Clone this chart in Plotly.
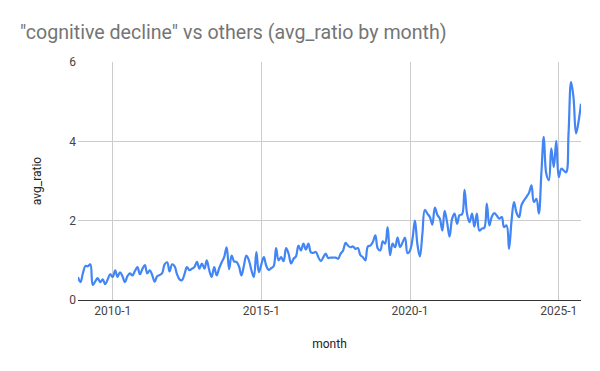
import pandas as pd
import plotly.graph_objects as go

# Monthly x categories: 2008-11 .. 2025-10
months = pd.date_range("2008-11-01", "2025-10-01", freq="MS")

avg_ratio = [
    # 2008-11, 2008-12
    0.58, 0.45,
    # 2009
    0.68, 0.86, 0.85, 0.90, 0.38, 0.47, 0.55, 0.45, 0.52, 0.40, 0.52, 0.65,
    # 2010
    0.58, 0.75, 0.58, 0.70, 0.60, 0.45, 0.60, 0.67, 0.62, 0.73, 0.83, 0.65,
    # 2011
    0.78, 0.88, 0.67, 0.75, 0.63, 0.46, 0.60, 0.63, 0.68, 0.90, 0.95, 0.72,
    # 2012
    0.90, 0.85, 0.65, 0.52, 0.50, 0.65, 0.83, 0.75, 0.79, 0.83, 0.96, 0.79,
    # 2013
    0.92, 0.79, 1.00, 0.75, 0.58, 0.83, 0.62, 0.80, 0.95, 1.08, 1.33, 0.78,
    # 2014
    1.12, 0.97, 0.96, 0.85, 0.62, 0.87, 1.12, 1.00, 0.75, 0.58, 1.21, 0.70,
    # 2015
    0.90, 1.08, 0.87, 0.76, 0.80, 0.85, 1.31, 1.00, 1.08, 0.98, 1.31, 1.17,
    # 2016
    0.92, 1.04, 1.10, 1.37, 1.25, 1.42, 1.27, 1.42, 1.20, 1.19, 1.21, 1.08,
    # 2017
    0.98, 1.08, 1.17, 1.06, 1.07, 1.07, 1.07, 1.04, 1.17, 1.25, 1.44, 1.37,
    # 2018
    1.33, 1.35, 1.29, 1.31, 1.13, 1.08, 1.00, 1.35, 1.37, 1.46, 1.63, 1.30,
    # 2019
    1.25, 1.48, 1.42, 1.84, 1.13, 1.42, 1.33, 1.57, 1.33, 1.45, 1.57, 1.18,
    # 2020
    1.25, 1.55, 2.00, 1.40, 1.10, 1.67, 2.27, 2.18, 2.09, 1.90, 2.33, 2.15,
    # 2021
    2.05, 1.75, 2.25, 1.95, 1.60, 2.05, 2.18, 1.92, 2.14, 2.16, 2.78, 2.18,
    # 2022
    1.96, 2.18, 1.85, 2.18, 1.75, 1.80, 1.82, 2.43, 1.88, 2.10, 2.19, 2.13,
    # 2023
    2.05, 2.09, 1.84, 1.88, 1.29, 2.00, 2.47, 2.20, 2.09, 2.39, 2.51, 2.60,
    # 2024
    2.70, 2.89, 2.47, 2.55, 2.18, 3.18, 4.11, 3.18, 3.02, 3.82, 3.35, 4.01,
    # 2025
    3.10, 3.31, 3.27, 3.22, 4.20, 5.50, 5.10, 4.20, 4.50, 4.95,
]

tick_vals = ["2010-01-01", "2015-01-01", "2020-01-01", "2025-01-01"]
tick_text = ["2010-1", "2015-1", "2020-1", "2025-1"]
y_ticks = [0, 2, 4, 6]

fig = go.Figure()
fig.add_trace(go.Scatter(
    x=months, y=avg_ratio, mode="lines",
    line=dict(color="#4285F4", width=2.2, shape="spline", smoothing=1.1),
    name="avg_ratio", showlegend=False,
))

fig.update_layout(
    width=600, height=371,
    margin=dict(l=78, r=19, t=62, b=71),
    paper_bgcolor="white", plot_bgcolor="white",
    font=dict(family="Roboto, Arial, sans-serif", size=12, color="#444"),
    title=dict(
        text='"cognitive decline" vs others (avg_ratio by month)',
        x=20/600, xref="container", xanchor="left",
        y=1-32/371, yref="container", yanchor="middle",
        font=dict(family="Roboto, Arial, sans-serif", size=19.6, color="#757575"),
    ),
)
fig.update_xaxes(
    type="date",
    range=[months[0], months[-1]],
    tickvals=tick_vals, ticktext=tick_text,
    showgrid=True, gridcolor="#cccccc", gridwidth=1,
    showline=True, linecolor="#333333", linewidth=1,
    ticks="", zeroline=False,
    tickfont=dict(size=12, color="#444"),
    title=dict(text="month", font=dict(size=12, color="#222"), standoff=22),
)
fig.update_yaxes(
    range=[0, 6], tickvals=y_ticks,
    showgrid=True, gridcolor="#cccccc", gridwidth=1,
    zeroline=False, showline=False, ticks="",
    tickfont=dict(size=12, color="#444"),
    ticklabelstandoff=1,
    title=dict(text="avg_ratio", font=dict(size=12, color="#222"), standoff=25),
)

fig.write_html("out.html", config={"displayModeBar": False},
               post_script="document.body.style.margin='0';")
